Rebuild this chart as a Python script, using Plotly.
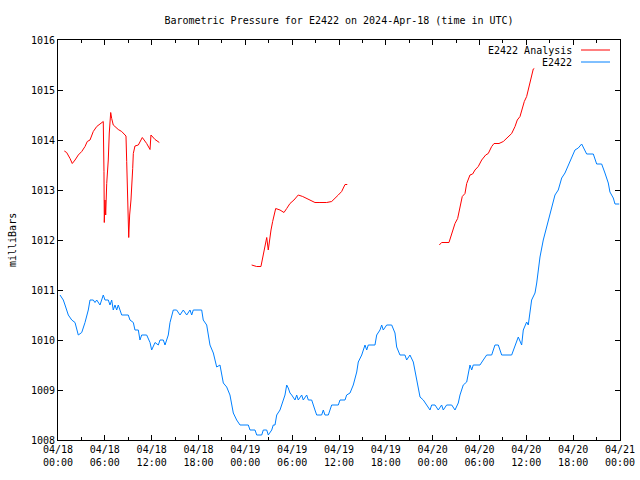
import pandas as pd
import plotly.graph_objects as go

# ---------------- data ----------------
start = "2024-04-18 00:00"

# E2422 observations: hours since start, pressure (mbar)
obs_hours = [0.26, 0.68, 0.9, 1.15, 1.32, 1.76, 2.18, 2.6, 3.04, 3.46, 3.88, 4.1, 4.52, 4.74, 4.96,
             5.38, 5.8, 6.02, 6.44, 6.66, 6.88, 7.08, 7.3, 7.52, 7.72, 7.94, 8.16, 9.0, 9.22, 9.65,
             9.86, 10.29, 10.5, 10.72, 11.36, 11.79, 12.0, 12.43, 12.85, 13.07, 13.49, 13.71, 14.13,
             14.35, 14.77, 15.2, 15.63, 16.05, 16.49, 16.91, 17.13, 17.33, 18.41, 18.61, 19.05,
             19.47, 19.9, 20.33, 20.75, 21.18, 21.61, 22.03, 22.46, 22.89, 23.32, 24.38, 24.6,
             25.24, 25.46, 26.1, 26.3, 26.74, 26.94, 27.38, 27.58, 27.8, 28.02, 28.44, 28.86,
             29.08, 29.3, 29.5, 29.72, 29.94, 30.36, 30.58, 30.78, 31.22, 31.42, 31.86, 32.07,
             32.5, 32.92, 33.14, 33.78, 33.99, 34.2, 34.63, 35.06, 35.27, 35.91, 36.13, 36.77,
             36.98, 37.41, 37.83, 38.27, 38.47, 38.91, 39.33, 39.55, 39.75, 40.61, 40.83, 41.25,
             41.47, 41.67, 42.11, 42.75, 43.17, 43.39, 43.81, 44.45, 44.67, 45.09, 45.52, 45.95,
             46.38, 46.8, 47.24, 47.66, 47.87, 48.3, 48.72, 49.15, 49.36, 49.79, 50.44, 50.86,
             51.28, 51.5, 51.92, 52.36, 52.78, 53.0, 53.2, 54.06, 54.48, 54.92, 55.56, 55.98,
             56.41, 56.84, 58.12, 58.55, 58.97, 59.4, 59.61, 60.04, 60.25, 60.68, 61.11, 61.33,
             61.75, 62.17, 62.61, 63.03, 63.67, 64.09, 64.53, 64.95, 65.37, 65.81, 66.23, 66.65,
             67.09, 67.73, 68.58, 69.01, 69.65, 70.07, 70.5, 70.71, 71.14, 71.36, 71.9]
obs_mbar = [1010.9, 1010.8, 1010.7, 1010.6, 1010.5, 1010.4, 1010.35, 1010.1, 1010.15, 1010.35, 1010.6,
            1010.8, 1010.8, 1010.75, 1010.8, 1010.7, 1010.9, 1010.8, 1010.8, 1010.7, 1010.8, 1010.6,
            1010.7, 1010.6, 1010.7, 1010.6, 1010.5, 1010.5, 1010.4, 1010.35, 1010.2, 1010.2, 1010.0,
            1010.1, 1010.1, 1009.95, 1009.8, 1009.95, 1009.9, 1010.0, 1010.0, 1009.9, 1010.1,
            1010.35, 1010.6, 1010.6, 1010.5, 1010.6, 1010.5, 1010.6, 1010.5, 1010.6, 1010.6,
            1010.4, 1010.3, 1009.9, 1009.74, 1009.46, 1009.5, 1009.14, 1009.06, 1008.9, 1008.54,
            1008.4, 1008.3, 1008.3, 1008.2, 1008.2, 1008.1, 1008.1, 1008.2, 1008.2, 1008.1, 1008.2,
            1008.3, 1008.3, 1008.5, 1008.6, 1008.8, 1008.9, 1009.1, 1009.04, 1008.94, 1008.9,
            1008.8, 1008.9, 1008.8, 1008.9, 1008.8, 1008.9, 1008.8, 1008.8, 1008.6, 1008.5, 1008.5,
            1008.6, 1008.5, 1008.5, 1008.7, 1008.7, 1008.7, 1008.8, 1008.8, 1008.9, 1008.94,
            1009.1, 1009.36, 1009.56, 1009.7, 1009.9, 1009.8, 1009.9, 1009.9, 1010.1, 1010.2,
            1010.3, 1010.2, 1010.3, 1010.3, 1010.14, 1009.86, 1009.7, 1009.7, 1009.6, 1009.7,
            1009.56, 1009.24, 1008.86, 1008.8, 1008.7, 1008.6, 1008.7, 1008.7, 1008.6, 1008.7,
            1008.6, 1008.7, 1008.7, 1008.6, 1008.74, 1008.9, 1009.1, 1009.16, 1009.5, 1009.4,
            1009.5, 1009.5, 1009.6, 1009.7, 1009.7, 1009.9, 1009.9, 1009.7, 1009.7, 1009.9,
            1010.06, 1009.9, 1010.2, 1010.36, 1010.3, 1010.8, 1010.94, 1011.14, 1011.66, 1012.0,
            1012.26, 1012.54, 1012.9, 1013.0, 1013.24, 1013.34, 1013.5, 1013.64, 1013.8, 1013.84,
            1013.92, 1013.72, 1013.72, 1013.52, 1013.52, 1013.34, 1013.14, 1012.96, 1012.84,
            1012.72, 1012.72]

# E2422 Analysis: three segments (None = gap)
ana_hours = [0.81, 1.11, 1.54, 1.83, 2.18, 2.6, 3.04, 3.46, 3.75, 4.1, 4.52, 4.96, 5.38, 5.8, 5.89,
             5.93, 6.02, 6.11, 6.24, 6.44, 6.57, 6.75, 6.88, 7.08, 7.3, 7.72, 8.16, 8.71, 8.8, 8.93,
             9.06, 9.18, 9.35, 9.57, 9.65, 9.86, 10.29, 10.8, 11.36, 11.79, 11.91, 12.43, 12.98,
             None,
             24.81, 25.45, 26.0, 26.22, 26.52, 26.74, 26.94, 27.07, 27.29, 27.5, 27.71, 27.89,
             28.44, 28.95, 29.3, 29.72, 30.23, 30.78, 31.35, 31.86, 32.28, 32.92, 33.56, 34.42,
             35.06, 35.49, 35.91, 36.34, 36.77, 37.06,
             None,
             48.85, 49.15, 50.09, 50.44, 50.86, 51.2, 51.5, 51.79, 52.14, 52.36, 52.78, 53.12,
             53.42, 53.84, 54.28, 54.79, 55.12, 55.56, 55.86, 56.5, 57.05, 57.69, 58.12, 58.55,
             58.84, 59.19, 59.4, 59.74, 60.04, 60.38, 60.6, 60.89, 61.02]
ana_mbar = [1013.78, 1013.75, 1013.63, 1013.53, 1013.6, 1013.7, 1013.77, 1013.87, 1013.97, 1014.0,
            1014.17, 1014.27, 1014.32, 1014.37, 1013.37, 1012.35, 1012.8, 1012.5, 1013.13, 1013.6,
            1014.14, 1014.55, 1014.43, 1014.3, 1014.27, 1014.21, 1014.17, 1014.08, 1013.57,
            1012.57, 1012.05, 1012.5, 1012.8, 1013.43, 1013.73, 1013.88, 1013.9, 1014.05, 1013.93,
            1013.81, 1014.1, 1014.01, 1013.95,
            None,
            1011.5, 1011.47, 1011.47, 1011.63, 1011.83, 1012.05, 1011.8, 1011.97, 1012.2, 1012.37,
            1012.53, 1012.63, 1012.6, 1012.55, 1012.63, 1012.73, 1012.8, 1012.9, 1012.87, 1012.83,
            1012.8, 1012.75, 1012.75, 1012.75, 1012.77, 1012.83, 1012.9, 1012.97, 1013.11, 1013.11,
            None,
            1011.9, 1011.95, 1011.95, 1012.13, 1012.33, 1012.43, 1012.67, 1012.87, 1012.93,
            1013.13, 1013.3, 1013.32, 1013.4, 1013.47, 1013.6, 1013.7, 1013.73, 1013.87, 1013.93,
            1013.93, 1013.97, 1014.07, 1014.13, 1014.27, 1014.4, 1014.47, 1014.6, 1014.77,
            1014.87, 1015.07, 1015.2, 1015.42, 1015.43]

x_tick_hours = [0, 6, 12, 18, 24, 30, 36, 42, 48, 54, 60, 66, 72]
x_tick_labels = ["04/18<br>00:00", "04/18<br>06:00", "04/18<br>12:00", "04/18<br>18:00",
                 "04/19<br>00:00", "04/19<br>06:00", "04/19<br>12:00", "04/19<br>18:00",
                 "04/20<br>00:00", "04/20<br>06:00", "04/20<br>12:00", "04/20<br>18:00",
                 "04/21<br>00:00"]
y_ticks = [1008, 1009, 1010, 1011, 1012, 1013, 1014, 1015, 1016]

series_names = ["E2422 Analysis", "E2422"]
series_colors = ["#ff0000", "#0080ff"]

# ---------------- build ----------------
t0 = pd.Timestamp(start)


def to_time(hours):
    return [None if h is None else t0 + pd.Timedelta(hours=h) for h in hours]


FONT = "DejaVu Sans Mono"

fig = go.Figure()
fig.add_trace(go.Scatter(x=to_time(ana_hours), y=ana_mbar, mode="lines",
                         line=dict(color=series_colors[0], width=1), connectgaps=False,
                         name=series_names[0], showlegend=False))
fig.add_trace(go.Scatter(x=to_time(obs_hours), y=obs_mbar, mode="lines",
                         line=dict(color=series_colors[1], width=1),
                         name=series_names[1], showlegend=False))

fig.update_layout(
    width=640, height=480,
    margin=dict(l=58, r=20, t=40, b=40),
    paper_bgcolor="white", plot_bgcolor="white",
    font=dict(family=FONT, size=10, color="black"),
    title=dict(text="Barometric Pressure for E2422 on 2024-Apr-18 (time in UTC)",
               x=(58 + 620) / 2 / 640, xanchor="center", y=1 - 20 / 480, yanchor="middle",
               font=dict(family=FONT, size=10, color="black")),
    showlegend=False,
)

fig.update_xaxes(
    type="date",
    automargin=False,
    range=[t0, t0 + pd.Timedelta(hours=72)],
    tickmode="array",
    tickvals=to_time(x_tick_hours),
    ticktext=x_tick_labels,
    ticks="inside", ticklen=5, tickcolor="black", tickwidth=1,
    minor=dict(ticks="inside", ticklen=3, dtick=3 * 3600 * 1000, tickcolor="black",
               showgrid=False),
    showline=True, linecolor="black", linewidth=1, mirror="ticks",
    showgrid=False, zeroline=False,
    tickfont=dict(family=FONT, size=10, color="black"),
)
fig.update_yaxes(
    automargin=False,
    range=[1008, 1016],
    tickmode="array", tickvals=y_ticks, ticktext=[str(v) for v in y_ticks],
    ticks="inside", ticklen=5, tickcolor="black", tickwidth=1,
    showline=True, linecolor="black", linewidth=1, mirror="ticks",
    showgrid=False, zeroline=False,
    tickfont=dict(family=FONT, size=10, color="black"),
)

# y axis label
fig.add_annotation(text="milliBars", xref="paper", yref="paper",
                   x=(12 - 58) / 562, y=(440 - 240) / 400, textangle=-90,
                   showarrow=False, xanchor="center", yanchor="middle",
                   font=dict(family=FONT, size=10, color="black"))

# gnuplot-style key (text right-aligned, then line sample)
key_rows_y = [50, 62]
for name, color, ypix in zip(series_names, series_colors, key_rows_y):
    yp = (440 - ypix) / 400
    fig.add_annotation(text=name, xref="paper", yref="paper", x=(574 - 58) / 562, y=yp,
                       xanchor="right", yanchor="middle", showarrow=False,
                       font=dict(family=FONT, size=10, color="black"))
    fig.add_shape(type="line", xref="paper", yref="paper",
                  x0=(581 - 58) / 562, x1=(610 - 58) / 562, y0=yp, y1=yp,
                  line=dict(color=color, width=1))

fig.write_html("out.html")
